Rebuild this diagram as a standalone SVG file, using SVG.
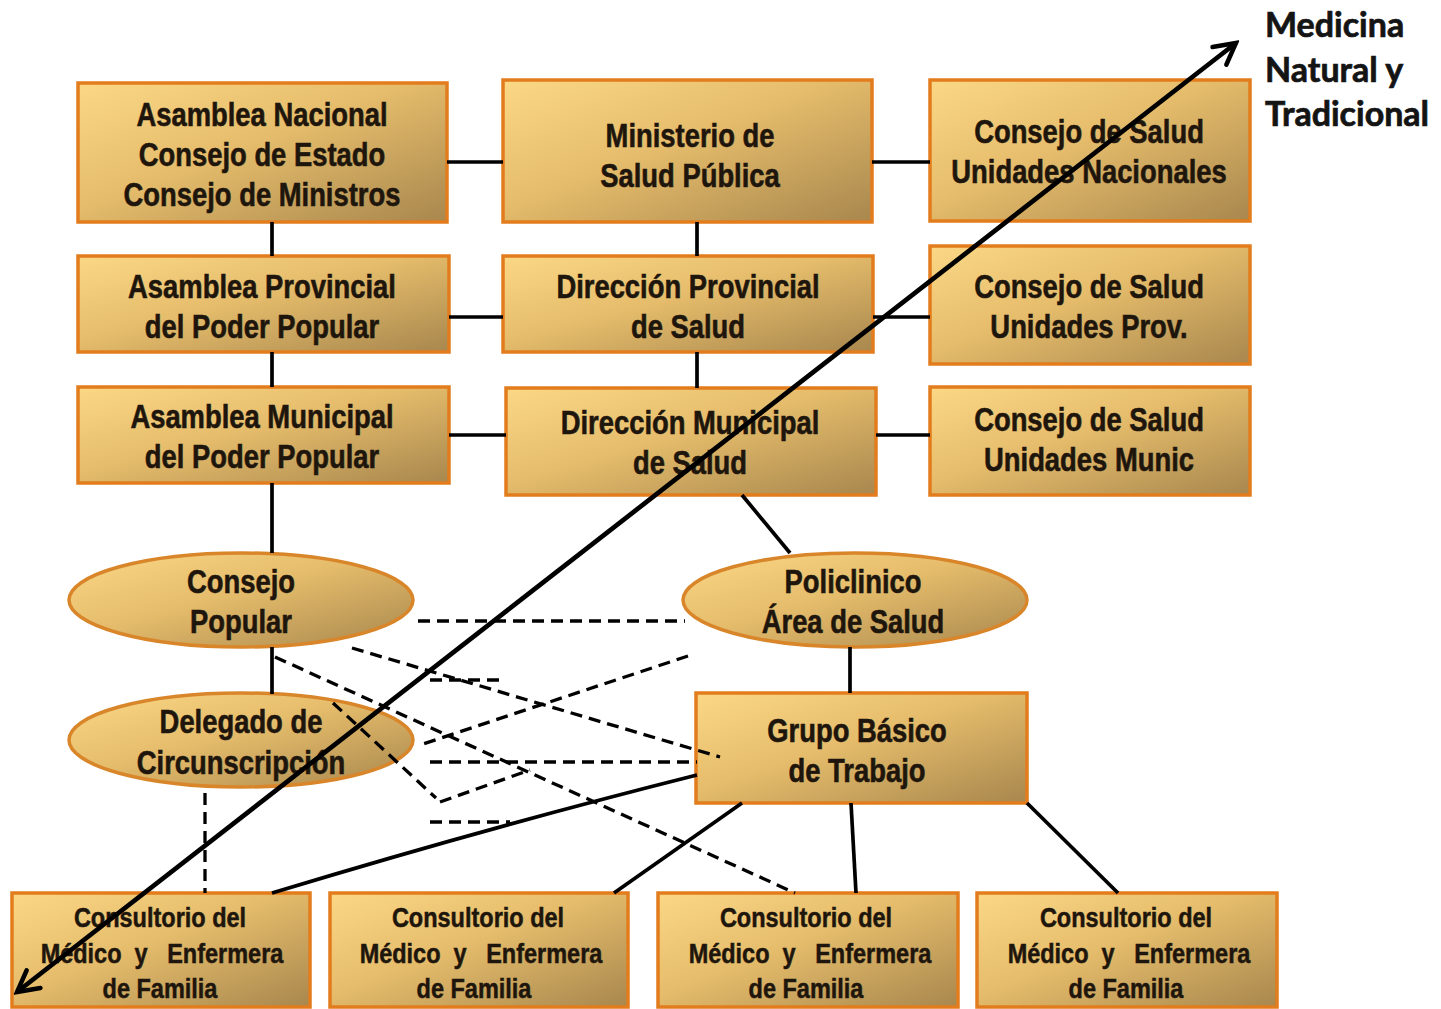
<svg xmlns="http://www.w3.org/2000/svg" width="1441" height="1009" viewBox="0 0 1441 1009">
<defs>
<linearGradient id="gold" x1="0" y1="0" x2="1" y2="1">
<stop offset="0" stop-color="#fbd886"/>
<stop offset="0.45" stop-color="#e5bc6b"/>
<stop offset="1" stop-color="#a8874e"/>
</linearGradient>
<marker id="arr" viewBox="0 0 20 20" refX="17" refY="10" markerWidth="28" markerHeight="28" markerUnits="userSpaceOnUse" orient="auto-start-reverse">
<path d="M2,2 L17,10 L2,18" fill="none" stroke="#000" stroke-width="3.2" stroke-linecap="round" stroke-linejoin="miter"/>
</marker>
</defs>
<style>
.box{fill:url(#gold);stroke:#e27c1c;stroke-width:3.5}
.ell{fill:url(#gold);stroke:#d9862a;stroke-width:3.5}
.t{font-family:"Liberation Sans",Arial,sans-serif;font-weight:bold;font-size:33px;text-anchor:middle;fill:#1e160c;stroke:#1e160c;stroke-width:0.6}
.s{font-family:"Liberation Sans",Arial,sans-serif;font-weight:bold;font-size:27px;text-anchor:middle;fill:#1e160c;stroke:#1e160c;stroke-width:0.5}
.lbl{font-family:Lato,"Open Sans",sans-serif;font-weight:bold;font-size:34px;fill:#141414;stroke:#141414;stroke-width:0.7}
.ln{stroke:#000;stroke-width:3.7;fill:none}
.dash{stroke:#000;stroke-width:3.3;fill:none;stroke-dasharray:12 7}
.big{stroke:#000;stroke-width:4.7;fill:none}
</style>

<g id="n-asamblea-nacional">
<rect class="box" x="78" y="83" width="369" height="139"/>
<text class="t" transform="translate(262,126) scale(0.83,1)">Asamblea Nacional</text>
<text class="t" transform="translate(262,166) scale(0.83,1)">Consejo de Estado</text>
<text class="t" transform="translate(262,206) scale(0.83,1)">Consejo de Ministros</text>
</g>
<g id="n-ministerio">
<rect class="box" x="503" y="80" width="369" height="142"/>
<text class="t" transform="translate(690,147) scale(0.83,1)">Ministerio de</text>
<text class="t" transform="translate(690,187) scale(0.83,1)">Salud Pública</text>
</g>
<g id="n-consejo-nacional">
<rect class="box" x="930" y="80" width="320" height="141"/>
<text class="t" transform="translate(1089,143) scale(0.83,1)">Consejo de Salud</text>
<text class="t" transform="translate(1089,183) scale(0.83,1)">Unidades Nacionales</text>
</g>

<g id="n-asamblea-provincial">
<rect class="box" x="78" y="256" width="371" height="96"/>
<text class="t" transform="translate(262,298) scale(0.83,1)">Asamblea Provincial</text>
<text class="t" transform="translate(262,338) scale(0.83,1)">del Poder Popular</text>
</g>
<g id="n-direccion-provincial">
<rect class="box" x="503" y="256" width="370" height="96"/>
<text class="t" transform="translate(688,298) scale(0.83,1)">Dirección Provincial</text>
<text class="t" transform="translate(688,338) scale(0.83,1)">de Salud</text>
</g>
<g id="n-consejo-prov">
<rect class="box" x="930" y="246" width="320" height="118"/>
<text class="t" transform="translate(1089,298) scale(0.83,1)">Consejo de Salud</text>
<text class="t" transform="translate(1089,338) scale(0.83,1)">Unidades Prov.</text>
</g>

<g id="n-asamblea-municipal">
<rect class="box" x="78" y="387" width="371" height="96"/>
<text class="t" transform="translate(262,428) scale(0.83,1)">Asamblea Municipal</text>
<text class="t" transform="translate(262,468) scale(0.83,1)">del Poder Popular</text>
</g>
<g id="n-direccion-municipal">
<rect class="box" x="506" y="388" width="370" height="107"/>
<text class="t" transform="translate(690,434) scale(0.83,1)">Dirección Municipal</text>
<text class="t" transform="translate(690,474) scale(0.83,1)">de Salud</text>
</g>
<g id="n-consejo-munic">
<rect class="box" x="930" y="387" width="320" height="108"/>
<text class="t" transform="translate(1089,431) scale(0.83,1)">Consejo de Salud</text>
<text class="t" transform="translate(1089,471) scale(0.83,1)">Unidades Munic</text>
</g>

<g id="n-consejo-popular">
<ellipse class="ell" cx="241" cy="600" rx="172" ry="47"/>
<text class="t" transform="translate(241,593) scale(0.83,1)">Consejo</text>
<text class="t" transform="translate(241,633) scale(0.83,1)">Popular</text>
</g>
<g id="n-policlinico">
<ellipse class="ell" cx="855" cy="600" rx="172" ry="47"/>
<text class="t" transform="translate(853,593) scale(0.83,1)">Policlinico</text>
<text class="t" transform="translate(853,633) scale(0.83,1)">Área de Salud</text>
</g>
<g id="n-delegado">
<ellipse class="ell" cx="241" cy="740" rx="172" ry="47"/>
<text class="t" transform="translate(241,733) scale(0.83,1)">Delegado de</text>
<text class="t" transform="translate(241,774) scale(0.83,1)">Circunscripción</text>
</g>
<g id="n-grupo-basico">
<rect class="box" x="696" y="693" width="331" height="110"/>
<text class="t" transform="translate(857,742) scale(0.83,1)">Grupo Básico</text>
<text class="t" transform="translate(857,782) scale(0.83,1)">de Trabajo</text>
</g>

<g id="n-consultorio-1">
<rect class="box" x="12" y="893" width="298" height="114"/>
<text class="s" transform="translate(160,927) scale(0.87,1)">Consultorio del</text>
<text class="s" xml:space="preserve" transform="translate(162,963) scale(0.87,1)">Médico  y   Enfermera</text>
<text class="s" transform="translate(160,998) scale(0.87,1)">de Familia</text>
</g>
<g id="n-consultorio-2">
<rect class="box" x="330" y="893" width="298" height="114"/>
<text class="s" transform="translate(478,927) scale(0.87,1)">Consultorio del</text>
<text class="s" xml:space="preserve" transform="translate(481,963) scale(0.87,1)">Médico  y   Enfermera</text>
<text class="s" transform="translate(474,998) scale(0.87,1)">de Familia</text>
</g>
<g id="n-consultorio-3">
<rect class="box" x="658" y="893" width="300" height="114"/>
<text class="s" transform="translate(806,927) scale(0.87,1)">Consultorio del</text>
<text class="s" xml:space="preserve" transform="translate(810,963) scale(0.87,1)">Médico  y   Enfermera</text>
<text class="s" transform="translate(806,998) scale(0.87,1)">de Familia</text>
</g>
<g id="n-consultorio-4">
<rect class="box" x="977" y="893" width="300" height="114"/>
<text class="s" transform="translate(1126,927) scale(0.87,1)">Consultorio del</text>
<text class="s" xml:space="preserve" transform="translate(1129,963) scale(0.87,1)">Médico  y   Enfermera</text>
<text class="s" transform="translate(1126,998) scale(0.87,1)">de Familia</text>
</g>

<g id="n-medicina-label">
<text class="lbl" x="1265" y="37">Medicina</text>
<text class="lbl" x="1265" y="82">Natural y</text>
<text class="lbl" x="1265" y="126">Tradicional</text>
</g>

<g id="connectors">
<line class="ln" x1="447" y1="162" x2="503" y2="162"/>
<line class="ln" x1="872" y1="162" x2="930" y2="162"/>
<line class="ln" x1="272" y1="222" x2="272" y2="256"/>
<line class="ln" x1="272" y1="352" x2="272" y2="387"/>
<line class="ln" x1="272" y1="483" x2="272" y2="553"/>
<line class="ln" x1="272" y1="647" x2="272" y2="694"/>
<line class="ln" x1="449" y1="317" x2="503" y2="317"/>
<line class="ln" x1="873" y1="317" x2="930" y2="317"/>
<line class="ln" x1="697" y1="222" x2="697" y2="256"/>
<line class="ln" x1="697" y1="352" x2="697" y2="388"/>
<line class="ln" x1="449" y1="435" x2="506" y2="435"/>
<line class="ln" x1="876" y1="435" x2="930" y2="435"/>
<line class="ln" x1="742" y1="495" x2="790" y2="553"/>
<line class="ln" x1="850" y1="647" x2="850" y2="693"/>
<path class="ln" d="M697,775 Q490,827 272,893"/>
<line class="ln" x1="742" y1="803" x2="614" y2="893"/>
<line class="ln" x1="851" y1="803" x2="856" y2="893"/>
<line class="ln" x1="1027" y1="803" x2="1118" y2="893"/>

<line class="dash" x1="205" y1="793" x2="205" y2="893"/>
<line class="dash" x1="418" y1="621" x2="685" y2="621"/>
<line class="dash" x1="352" y1="648" x2="720" y2="757"/>
<line class="dash" x1="430" y1="680" x2="500" y2="680"/>
<line class="dash" x1="275" y1="657" x2="795" y2="893"/>
<line class="dash" x1="688" y1="656" x2="420" y2="745"/>
<line class="dash" x1="333" y1="703" x2="436" y2="798"/>
<line class="dash" x1="440" y1="802" x2="530" y2="770"/>
<line class="dash" x1="430" y1="762" x2="697" y2="762"/>
<line class="dash" x1="430" y1="822" x2="510" y2="822"/>

<line class="big" x1="17" y1="992" x2="1236" y2="43" marker-start="url(#arr)" marker-end="url(#arr)"/>
</g>
</svg>
